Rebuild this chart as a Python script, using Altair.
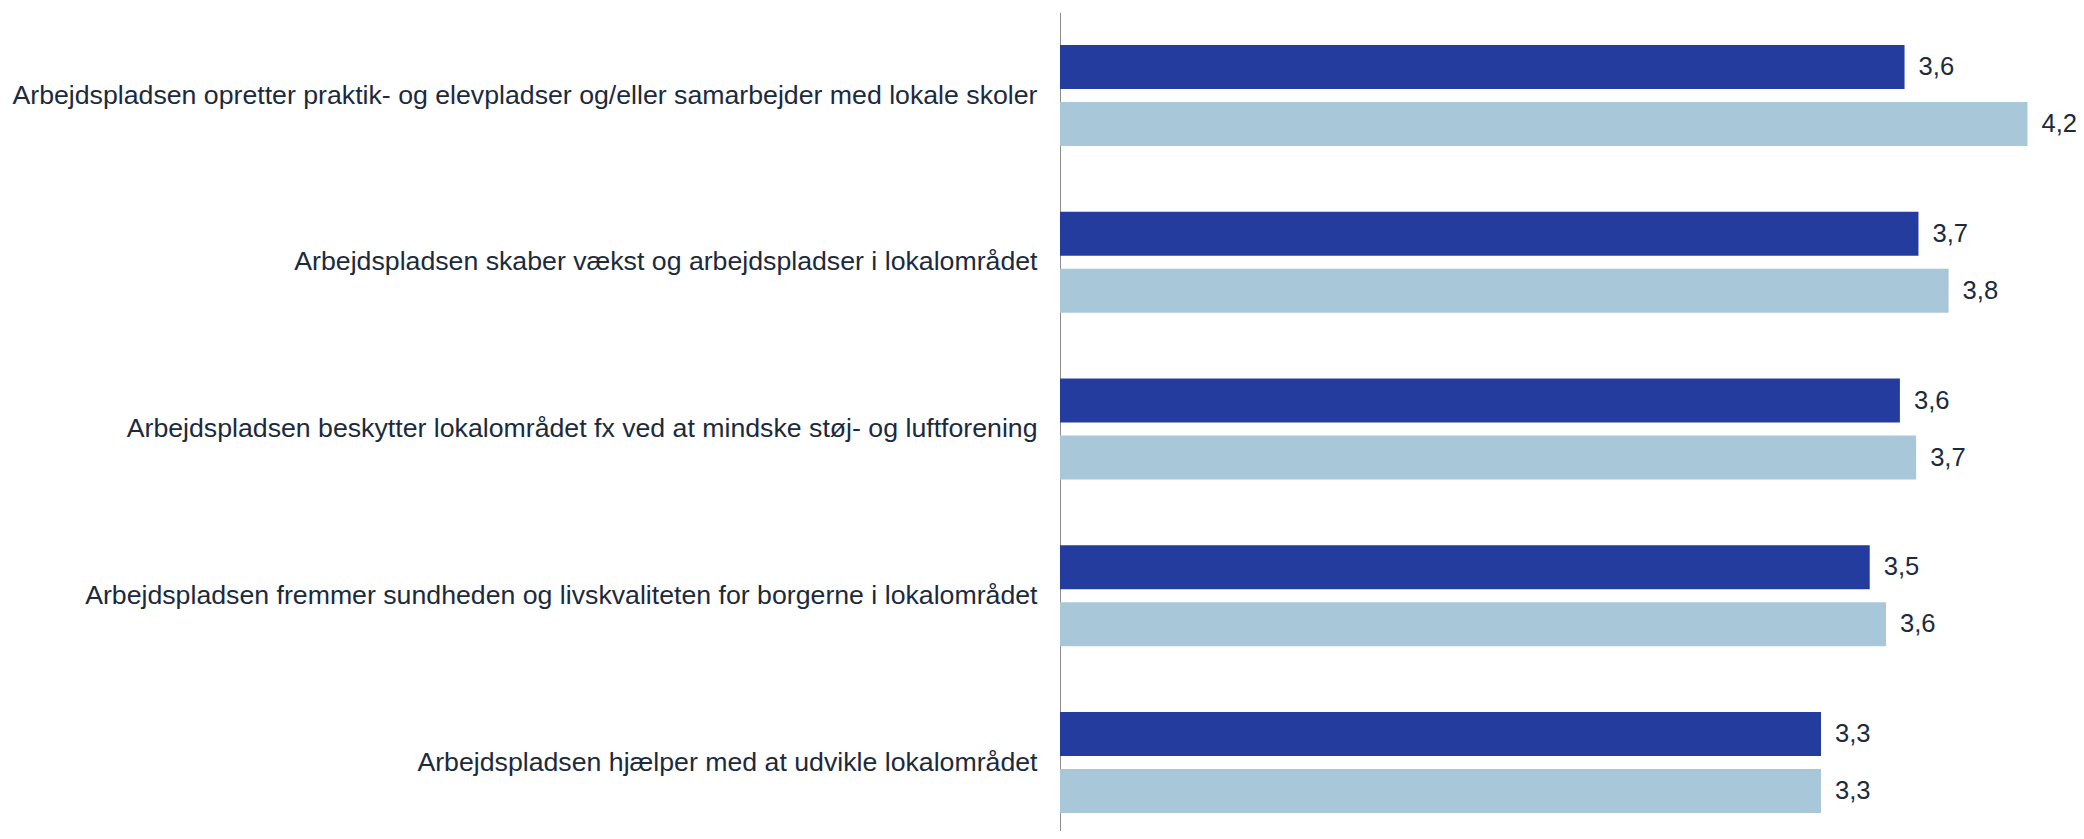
import altair as alt
import pandas as pd

categories = [
    "Arbejdspladsen opretter praktik- og elevpladser og/eller samarbejder med lokale skoler",
    "Arbejdspladsen skaber vækst og arbejdspladser i lokalområdet",
    "Arbejdspladsen beskytter lokalområdet fx ved at mindske støj- og luftforening",
    "Arbejdspladsen fremmer sundheden og livskvaliteten for borgerne i lokalområdet",
    "Arbejdspladsen hjælper med at udvikle lokalområdet",
]
series = ["Serie 1", "Serie 2"]
series1_values = [3.64, 3.70, 3.62, 3.49, 3.28]
series2_values = [4.17, 3.83, 3.69, 3.56, 3.28]
colors = ["#233C9E", "#A8C7D8"]

rows = []
for cat, v1, v2 in zip(categories, series1_values, series2_values):
    for s, v in zip(series, [v1, v2]):
        rows.append({"kategori": cat, "serie": s, "vaerdi": v,
                     "label": f"{v:.1f}".replace(".", ",")})
df = pd.DataFrame(rows)

FONT = "Liberation Sans"
TXT = "#1B2A3C"

y_enc = alt.Y(
    "kategori:N", sort=categories, title=None,
    scale=alt.Scale(paddingInner=0.394, paddingOuter=0.152, align=0.646),
    axis=alt.Axis(ticks=False, domain=True, domainColor="#8C8C8C", domainWidth=1,
                  labelFont=FONT, labelFontSize=26.7, labelColor=TXT,
                  labelPadding=23, labelLimit=1200, grid=False),
)
yoff = alt.YOffset("serie:N", sort=series,
                   scale=alt.Scale(paddingInner=0.228, paddingOuter=0))
x_enc = alt.X("vaerdi:Q", axis=None, scale=alt.Scale(domain=[0, 4.379], nice=False, zero=True))

base = alt.Chart(df)
bars = base.mark_bar().encode(
    y=y_enc, yOffset=yoff, x=x_enc,
    color=alt.Color("serie:N", sort=series,
                    scale=alt.Scale(domain=series, range=colors), legend=None),
)
text = base.mark_text(align="left", baseline="middle", dx=14, font=FONT,
                      fontSize=25.6, color=TXT).encode(
    y=alt.Y("kategori:N", sort=categories), yOffset=yoff, x=x_enc, text="label:N"
)

chart = (bars + text).properties(
    width=1016, height=818.7,
    autosize=alt.AutoSizeParams(type="none"),
    padding={"left": 1052, "top": 4.3, "right": 0, "bottom": 0},
).configure(background="white", view=alt.ViewConfig(stroke=None))

chart.save("out.html", embed_options={"renderer": "svg", "actions": False})
